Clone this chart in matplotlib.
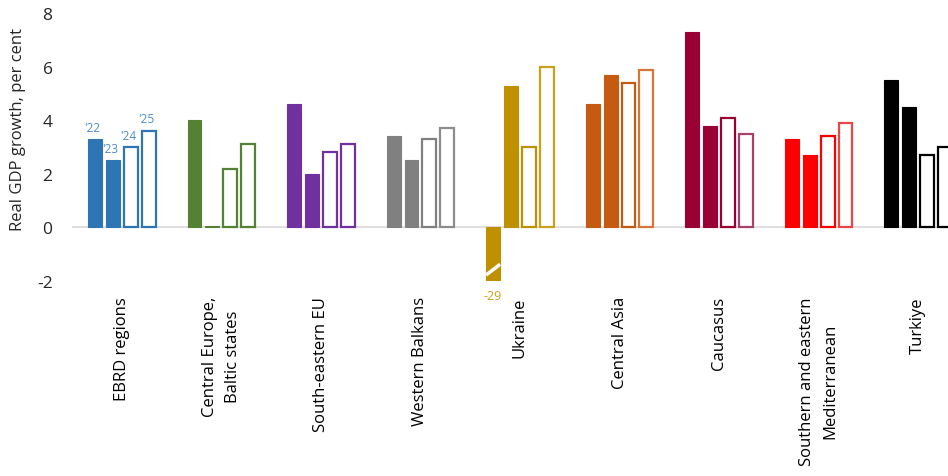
import matplotlib.pyplot as plt
import numpy as np

plt.rcParams['font.family'] = ['Open Sans', 'DejaVu Sans']
plt.rcParams['axes.unicode_minus'] = False

# data
regions = ['EBRD regions', 'Central Europe,\nBaltic states', 'South-eastern EU',
           'Western Balkans', 'Ukraine', 'Central Asia', 'Caucasus',
           'Southern and eastern\nMediterranean', 'Turkiye']
g22 = [3.3, 4.0, 4.6, 3.4, -29.0, 4.6, 7.3, 3.3, 5.5]
g23 = [2.5, 0.05, 2.0, 2.5, 5.3, 5.7, 3.8, 2.7, 4.5]
g24 = [3.0, 2.2, 2.8, 3.3, 3.0, 5.4, 4.1, 3.4, 2.7]
g25 = [3.6, 3.1, 3.1, 3.7, 6.0, 5.9, 3.5, 3.9, 3.0]
years = ["'22", "'23", "'24", "'25"]
colors = ['#2E75B6', '#548235', '#7030A0', '#808080', '#BF9000',
          '#C55A11', '#990033', '#FF0000', '#000000']
edge25 = ['#2E75B6', '#548235', '#7030A0', '#8C8C8C', '#C9A21A',
          '#D5773A', '#A8416A', '#EE4444', '#000000']
ymin, ymax = -2, 8

fig = plt.figure(figsize=(9.48, 4.77), dpi=100)
ax = fig.add_axes([0.076, 0.409, 0.924, 0.561])

x = np.arange(len(regions))
w = 0.14
offs = [-0.27, -0.09, 0.09, 0.27]
series = [g22, g23, g24, g25]

for k, vals in enumerate(series):
    clipped = [max(v, ymin) for v in vals]
    if k < 2:
        ax.bar(x + offs[k], clipped, w, color=colors, edgecolor=colors,
               linewidth=0.8, zorder=3)
    else:
        ec = colors if k == 2 else edge25
        ax.bar(x + offs[k], clipped, w, color='white', edgecolor=ec,
               linewidth=1.6, zorder=3)

# axis break on the truncated Ukraine bar
ui = regions.index('Ukraine')
bx = ui + offs[0]
ax.plot([bx - w / 2, bx + w / 2], [-1.78, -1.38], color='white', lw=2.5,
        zorder=4, solid_capstyle='butt')
ax.text(bx, -2.3, '%d' % g22[ui], color='#C9A21A', fontsize=9,
        ha='center', va='top', clip_on=False)

# year labels over the first group
for k, vals in enumerate(series):
    ax.annotate(years[k], (offs[k], vals[0]), xytext=(-2, 4),
                textcoords='offset points', ha='center', va='bottom',
                fontsize=8.5, color='#4A8CCB', zorder=5)

ax.axhline(0, color='#D9D9D9', lw=1.2, zorder=2)

ax.set_xlim(-0.5, 8.3)
ax.set_ylim(ymin, ymax)
ax.set_yticks(range(ymin, ymax + 1, 2))
ax.set_xticks(x)
ax.set_xticklabels(regions, rotation=90, fontsize=12, linespacing=1.6,
                   ha='center', va='top', multialignment='center')
ax.tick_params(axis='x', length=0, pad=11)
ax.tick_params(axis='y', length=0, pad=14, labelsize=12.5, colors='#262626')
for s in ax.spines.values():
    s.set_visible(False)

ax.set_ylabel('Real GDP growth, per cent', fontsize=12, color='#262626')
ax.yaxis.set_label_coords(-0.053, 0.57)

fig.savefig('out.png', dpi=100)
